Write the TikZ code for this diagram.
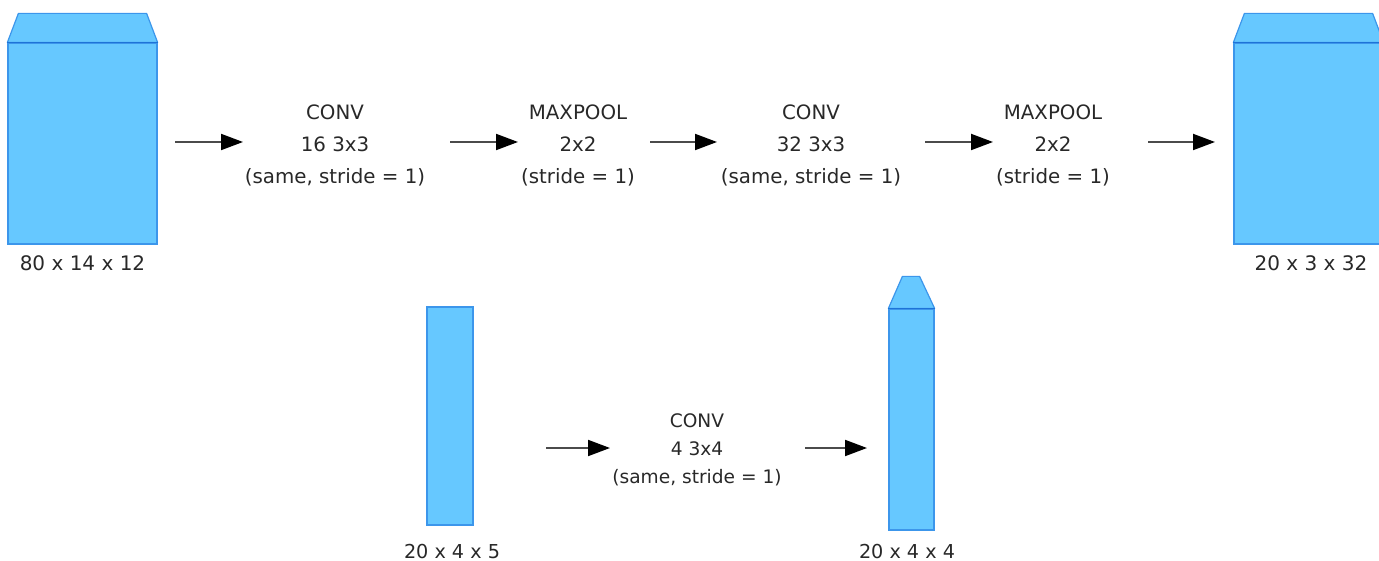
\documentclass[tikz,border=0pt]{standalone}
\usepackage{fontspec}
\setmainfont{DejaVu Sans}
\usetikzlibrary{arrows.meta}
\definecolor{boxfill}{RGB}{102,200,255}
\definecolor{boxline}{RGB}{60,150,235}
\definecolor{boxedge}{RGB}{30,115,215}
\definecolor{txt}{RGB}{40,40,40}
\definecolor{arrline}{RGB}{75,75,75}
\begin{document}
\begin{tikzpicture}[x=1pt,y=-1pt,
  vol/.style={draw=boxline, fill=boxfill, line width=1.2pt, inner sep=0pt},
  capface/.style={draw=boxline, fill=boxfill, line width=1.2pt, line join=round},
  capedge/.style={draw=boxedge, line width=1.6pt},
  lbl/.style={text=txt, inner sep=0pt, font=\fontsize{20}{24}\selectfont},
  optext/.style={text=txt, inner sep=0pt, align=center, font=\fontsize{19.8}{32}\selectfont},
  optextsmall/.style={text=txt, inner sep=0pt, align=center, font=\fontsize{18.6}{28}\selectfont},
  arr/.style={draw=arrline, line width=2pt, -{Triangle[length=22pt,width=16pt,color=black]}}]
\useasboundingbox (0,0) rectangle (1379,561);

% input volume
\node[vol, minimum width=149pt, minimum height=201pt] (in) at (82.5,143.5) {};
\path[capface] (in.north west) -- ++(11,-29) -- ([xshift=-11pt,yshift=29pt]in.north east) -- (in.north east) -- cycle;
\draw[capedge] (in.north west) -- (in.north east);
\node[lbl] (inl) at (82.5,263) {80 x 14 x 12};

% output volume (right, partly cut)
\node[vol, minimum width=149pt, minimum height=201pt] (out) at (1308.5,143.5) {};
\path[capface] (out.north west) -- ++(11,-29) -- ([xshift=-11pt,yshift=29pt]out.north east) -- (out.north east) -- cycle;
\draw[capedge] (out.north west) -- (out.north east);
\node[lbl] (outl) at (1311,263) {20 x 3 x 32};

% operation texts, top row
\node[optext] (t1) at (335,145) {CONV\\16 3x3\\(same, stride = 1)};
\node[optext] (t2) at (578,145) {MAXPOOL\\2x2\\(stride = 1)};
\node[optext] (t3) at (811,145) {CONV\\32 3x3\\(same, stride = 1)};
\node[optext] (t4) at (1053,145) {MAXPOOL\\2x2\\(stride = 1)};

% arrows top row
\coordinate (a1s) at (175,142); \coordinate (a1e) at (243,142);
\coordinate (a2s) at (450,142); \coordinate (a2e) at (518,142);
\coordinate (a3s) at (650,142); \coordinate (a3e) at (717,142);
\coordinate (a4s) at (925,142); \coordinate (a4e) at (993,142);
\coordinate (a5s) at (1148,142); \coordinate (a5e) at (1215,142);
\draw[arr] (a1s) -- (a1e);
\draw[arr] (a2s) -- (a2e);
\draw[arr] (a3s) -- (a3e);
\draw[arr] (a4s) -- (a4e);
\draw[arr] (a5s) -- (a5e);

% bottom row
\node[vol, minimum width=46pt, minimum height=218pt] (b1) at (450,416) {};
\node[lbl, font=\fontsize{19.2}{24}\selectfont] (b1l) at (452,552) {20 x 4 x 5};

\node[vol, minimum width=45pt, minimum height=221pt] (b2) at (911.5,419.5) {};
\path[capface] (b2.north west) -- ++(14,-32) -- ([xshift=-15pt,yshift=32pt]b2.north east) -- (b2.north east) -- cycle;
\draw[capedge] (b2.north west) -- (b2.north east);
\node[lbl, font=\fontsize{19.2}{24}\selectfont] (b2l) at (907,552) {20 x 4 x 4};

\node[optextsmall] (t5) at (697,450) {CONV\\4 3x4\\(same, stride = 1)};

\coordinate (b1s) at (546,448); \coordinate (b1e) at (610,448);
\coordinate (b2s) at (805,448); \coordinate (b2e) at (867,448);
\draw[arr] (b1s) -- (b1e);
\draw[arr] (b2s) -- (b2e);
\end{tikzpicture}
\end{document}
